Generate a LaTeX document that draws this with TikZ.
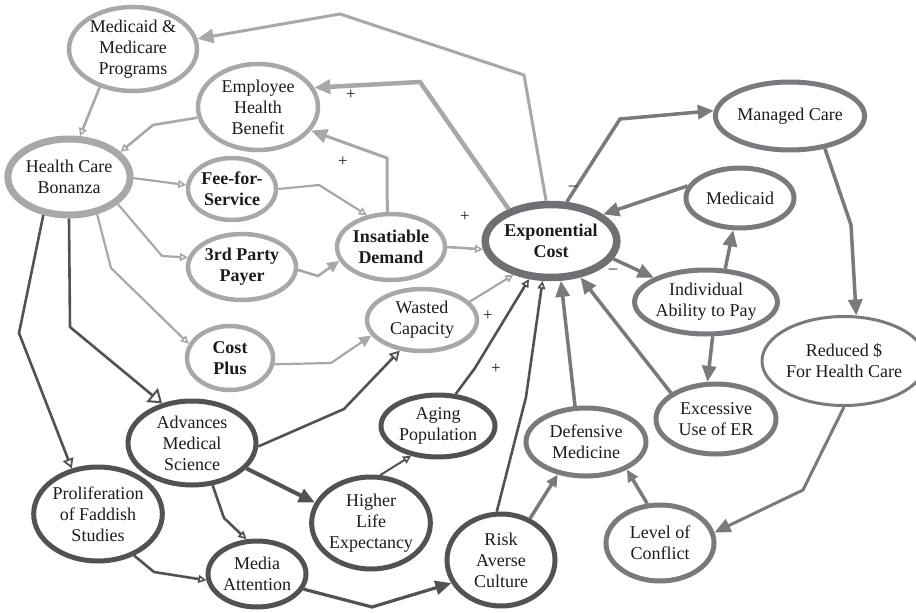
\documentclass[tikz,border=0pt]{standalone}
\usepackage{fontspec}
\setmainfont{Liberation Serif}
\usetikzlibrary{shapes.geometric,arrows.meta}
\definecolor{lg}{RGB}{168,168,170}
\definecolor{mg}{RGB}{122,122,126}
\definecolor{xg}{RGB}{112,112,116}
\definecolor{dg}{RGB}{82,82,84}
\definecolor{txt}{RGB}{28,28,28}
\begin{document}
\begin{tikzpicture}[x=1pt,y=-1pt,
  nd/.style={ellipse, draw, inner sep=0pt, align=center, text=txt,
    font=\fontsize{18}{21}\selectfont},
  bnd/.style={nd, font=\fontsize{18}{21}\selectfont\bfseries},
  lgn/.style={draw=lg, line width=4.5pt},
  mgn/.style={draw=mg, line width=5pt},
  dgn/.style={draw=dg, line width=5pt},
  le/.style={draw=lg, line width=3pt},
  me/.style={draw=mg, line width=3.5pt},
  de/.style={draw=dg, line width=2.6pt},
  fbig/.style={-{Triangle[length=16pt,width=14pt]}},
  fmed/.style={-{Triangle[length=12pt,width=11pt]}},
  osm/.style={-{Triangle[open,length=8pt,width=8pt,line width=1.6pt]}},
  omed/.style={-{Triangle[open,length=10pt,width=11pt,line width=1.8pt]}},
  obig/.style={-{Triangle[open,length=13pt,width=18pt,line width=2pt]}},
  sg/.style={text=txt, font=\fontsize{17}{17}\selectfont, inner sep=0pt}
]
\useasboundingbox (0,0) rectangle (916,613);

% nodes
\node[nd, lgn, minimum width=128, minimum height=84] (mm) at (133,49) {Medicaid \&\\Medicare\\Programs};
\node[nd, lgn, minimum width=120, minimum height=86] (emp) at (258,107) {Employee\\Health\\Benefit};
\node[nd, lgn, line width=7pt, minimum width=122, minimum height=76] (bon) at (69,177) {Health Care\\Bonanza};
\node[bnd, lgn, minimum width=88, minimum height=62] (fee) at (232,189) {Fee-for-\\Service};
\node[bnd, lgn, minimum width=108, minimum height=66] (tpp) at (242,267) {3rd Party\\Payer};
\node[bnd, lgn, minimum width=108, minimum height=66] (ins) at (391,247) {Insatiable\\Demand};
\node[nd, lgn, minimum width=110, minimum height=62] (wc) at (422,320) {Wasted\\Capacity};
\node[bnd, lgn, minimum width=86, minimum height=64] (cp) at (230,358) {Cost\\Plus};
\node[bnd, draw=xg, line width=7.5pt, minimum width=127, minimum height=73] (exp) at (551,241) {Exponential\\Cost};
\node[nd, mgn, minimum width=128, minimum height=68] (mc) at (790,116) {Managed Care};
\node[nd, mgn, minimum width=108, minimum height=60] (mcd) at (740,198) {Medicaid};
\node[nd, mgn, minimum width=140, minimum height=64] (iap) at (706,302) {Individual\\Ability to Pay};
\node[nd, draw=mg, line width=3pt, minimum width=137, minimum height=89] (red) at (844,361) {Reduced \$\\For Health Care};
\node[nd, mgn, minimum width=120, minimum height=70] (er) at (716,419) {Excessive\\Use of ER};
\node[nd, mgn, minimum width=120, minimum height=68] (dm) at (586,442) {Defensive\\Medicine};
\node[nd, mgn, minimum width=108, minimum height=76] (lc) at (660,543) {Level of\\Conflict};
\node[nd, dgn, minimum width=108, minimum height=92] (rac) at (501,560) {Risk\\Averse\\Culture};
\node[nd, dgn, minimum width=114, minimum height=62] (ap) at (438,426) {Aging\\Population};
\node[nd, dgn, minimum width=108, minimum height=92] (hle) at (371,523) {Higher\\Life\\Expectancy};
\node[nd, dgn, minimum width=128, minimum height=84] (ams) at (192,443) {Advances\\Medical\\Science};
\node[nd, dgn, minimum width=120, minimum height=94] (pfs) at (98,514) {Proliferation\\of Faddish\\Studies};
\node[nd, dgn, minimum width=98, minimum height=66] (ma) at (257,574) {Media\\Attention};

% light grey connectors
\draw[le, fbig] (exp.97) -- (524,75) -- (340,14) -- (mm.9);
\draw[le, line width=4.5pt, fbig] (exp.143) -- (420,82) -- (emp.19);
\draw[le, fbig] (ins.96) -- (387,158) -- (emp.-24);
\draw[le, line width=2.6pt, osm] (emp.190) -- (153,125) -- (bon.26);
\draw[le, line width=2.6pt, osm] (mm.229) -- (bon.75);
\draw[le, line width=2.2pt, osm] (bon.-1) -- (fee.175);
\draw[le, line width=2.2pt, osm] (bon.-29) -- (162,256) -- (tpp.170);
\draw[le, line width=2.2pt, osm] (bon.-53) -- (111,268) -- (cp.161);
\draw[le, line width=2.2pt, osm] (fee.0) -- (319,185) -- (ins.127);
\draw[le, line width=2.6pt, fmed] (tpp.-3) -- (318,276) -- (ins.195);
\draw[le, line width=2.6pt, osm] (ins.0) -- (exp.187);
\draw[le, line width=2.2pt, fmed] (cp.-8) -- (331,363) -- (wc.197);
\draw[le, line width=2.2pt, osm] (wc.21) -- (exp.222);

% dark connectors
\draw[de, omed] (ams.-3) -- (344,409) -- (wc.234);
\draw[de, line width=4pt, fbig] (ams.-25) -- (hle.160);
\draw[de, osm] (ams.-64) -- (224,518) -- (ma.107);
\draw[de, osm] (pfs.-49) -- (154,572) -- (ma.187);
\draw[de, omed] (bon.236) -- (19,333) -- (pfs.120);
\draw[de, obig] (bon.270) -- (70,327) -- (ams.127);
\draw[de, line width=3.2pt, fbig] (ma.-18) -- (372,607) -- (rac.205);
\draw[de, line width=2pt, osm] (hle.79) -- (ap.228);
\draw[de, osm] (ap.61) -- (475,368) -- (exp.240);
\draw[de, osm] (rac.95) -- (526,397) -- (exp.258);

% medium grey connectors
\draw[me, fbig] (dm.107) -- (exp.284);
\draw[me, fbig] (er.150) -- (exp.309);
\draw[me, fmed] (rac.55) -- (dm.229);
\draw[me, fmed] (lc.108) -- (dm.326);
\draw[me, line width=3pt, fbig] (red.270) -- (803,490) -- (lc.11);
\draw[me, fbig] (mc.-43) -- (851,225) -- (red.75);
\draw[me, fbig] (exp.68) -- (620,119) -- (mc.176);
\draw[me, fbig] (mcd.167) -- (exp.27);
\draw[me, fbig] (exp.-16) -- (iap.155);
\draw[me, fbig] (iap.60) -- (mcd.258);
\draw[me, fbig] (iap.-79) -- (er.103);

% polarity labels
\node[sg] (s1) at (351,95) {+};
\node[sg] (s2) at (343,162) {+};
\node[sg] (s3) at (465,217) {+};
\node[sg] (s4) at (488,316) {+};
\node[sg] (s5) at (496,369) {+};
\node[sg] (s6) at (573,188) {–};
\node[sg] (s7) at (613,271) {–};
\end{tikzpicture}
\end{document}
